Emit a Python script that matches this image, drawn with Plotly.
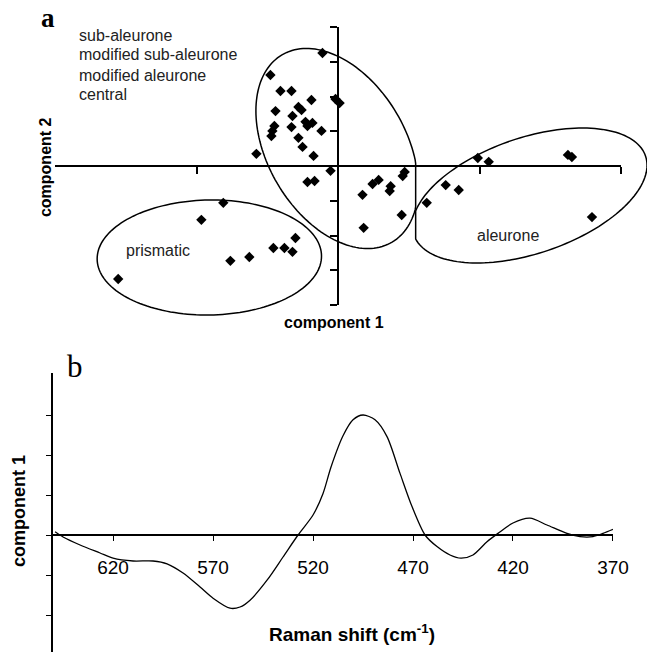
import numpy as np
import plotly.graph_objects as go

W, H = 647, 652
EFF_W = 630.0  # horizontal scale observed in the rendered page

# ---------------- data ----------------
# Panel a: PCA scores (component 1 vs component 2)
score_c1 = [-0.110, -0.478, -0.407, -0.329, -0.188, -0.018, 0.011, -0.280, -0.258, -0.442,
            -0.322, -0.230, -0.181, -0.216, -0.450, -0.464, -0.471, -0.329, -0.117, -0.280,
            -0.251, -0.577, -0.173, -0.053, -0.216, -0.166, 0.471, 0.457, 0.244, 0.287,
            0.372, 0.365, 0.173, 0.761, 0.853, 0.627, 0.450, 0.181, 0.988, 1.065,
            1.625, 1.653, 1.795,
            -0.811, -0.966, -0.301, -0.457, -0.379, -0.322, -0.761, -0.627, -1.554]
score_c2 = [3.25, 2.62, 2.16, 2.16, 1.90, 1.93, 1.81, 1.70, 1.61, 1.58,
            1.44, 1.27, 1.24, 1.15, 1.15, 1.01, 0.86, 1.12, 1.01, 0.81,
            0.55, 0.35, 0.29, -0.14, -0.46, -0.43, -0.17, -0.29, -0.52, -0.40,
            -0.58, -0.72, -0.83, -0.55, -0.69, -1.06, -1.41, -1.78, 0.23, 0.12,
            0.32, 0.26, -1.47,
            -1.06, -1.55, -2.07, -2.36, -2.36, -2.47, -2.73, -2.62, -3.25]

group_labels = ["sub-aleurone", "modified sub-aleurone", "modified aleurone", "central"]
cluster_labels = ["prismatic", "aleurone"]

x_ticks_a = [-1, 0, 1, 2]
y_ticks_a = [-4, -3, -2, -1, 0, 1, 2, 3, 4]

# Panel b: loading of component 1 vs Raman shift
raman_shift = [649, 645, 636.5, 626.5, 620, 610, 600, 593, 585, 576.5, 570, 561.5, 556.5,
               551.5, 543, 535, 527.5, 520, 515, 511, 505, 500, 495, 489, 483, 476.5,
               470.5, 464, 458, 451.5, 446, 440, 433, 427.5, 420, 411.5, 403, 393,
               386.5, 380, 375, 370]
loading_c1 = [0.08, -0.05, -0.25, -0.45, -0.58, -0.65, -0.65, -0.72, -0.95, -1.30, -1.58,
              -1.83, -1.80, -1.63, -1.13, -0.55, 0.00, 0.50, 1.04, 1.70, 2.48, 2.88, 3.00,
              2.88, 2.46, 1.54, 0.71, 0.00, -0.29, -0.50, -0.58, -0.50, -0.17, 0.04,
              0.30, 0.42, 0.25, 0.04, -0.04, -0.04, 0.04, 0.14]

x_ticks_b = [620, 570, 520, 470, 420, 370]
y_ticks_b = [-2, -1, 0, 1, 2, 3]

# ---------------- layout helpers ----------------
FONT = "Liberation Sans, Arial, sans-serif"
SERIF = "Liberation Serif, Times New Roman, serif"


def px_x(p):
    return p / EFF_W


def px_y(p):
    return 1 - p / H


def ellipse_path(cx, cy, w, h, sxy, clip_lo=None, clip_hi=None, n=160):
    t = np.linspace(0, 2 * np.pi, n, endpoint=False)
    m21 = sxy / w
    m22 = np.sqrt(h * h - m21 * m21)
    xs = cx + w * np.cos(t)
    ys = cy + m21 * np.cos(t) + m22 * np.sin(t)
    if clip_lo is not None:
        xs = np.maximum(xs, clip_lo)
    if clip_hi is not None:
        xs = np.minimum(xs, clip_hi)
    pts = [f"{px_x(x):.5f},{px_y(y):.5f}" for x, y in zip(xs, ys)]
    return "M " + " L ".join(pts) + " Z"


# panel a geometry (pixels)
a_left, a_right, a_top, a_bot = 55, 620, 27, 305
xr_a = [-2, 2]
yr_a = [-4, 4]
a_xdom = [px_x(a_left), px_x(a_right)]
a_ydom = [px_y(a_bot), px_y(a_top)]
a_xpos = a_ydom[0] + (0 - yr_a[0]) / (yr_a[1] - yr_a[0]) * (a_ydom[1] - a_ydom[0])
a_ypos = a_xdom[0] + (0 - xr_a[0]) / (xr_a[1] - xr_a[0]) * (a_xdom[1] - a_xdom[0])

# panel b geometry
b_left, b_right, b_top = 53, 612, 373
xr_b = [650, 370]
b_zero = 535
b_unit = 40.0
yr_b = [-(H - b_zero) / b_unit, (b_zero - b_top) / b_unit]
b_xdom = [px_x(b_left), px_x(b_right)]
b_ydom = [0, px_y(b_top)]
b_xpos = b_ydom[0] + (0 - yr_b[0]) / (yr_b[1] - yr_b[0]) * (b_ydom[1] - b_ydom[0])

fig = go.Figure()

fig.add_trace(go.Scatter(
    x=score_c1, y=score_c2, mode="markers", xaxis="x", yaxis="y",
    marker=dict(symbol="diamond", size=8, color="black"),
    cliponaxis=False, showlegend=False, hoverinfo="x+y"))

fig.add_trace(go.Scatter(
    x=raman_shift, y=loading_c1, mode="lines", xaxis="x2", yaxis="y2",
    line=dict(color="black", width=1.3, shape="spline", smoothing=0.8),
    showlegend=False))

axis_common = dict(showgrid=False, zeroline=False, showline=True, linecolor="black",
                   ticks="outside", tickcolor="black", showticklabels=False)

fig.update_layout(
    width=W, height=H, autosize=False,
    margin=dict(l=0, r=0, t=0, b=0),
    paper_bgcolor="white", plot_bgcolor="rgba(0,0,0,0)",
    font=dict(family=FONT, color="black"),
    xaxis=dict(**axis_common, domain=a_xdom, range=xr_a, anchor="free", position=a_xpos,
               tickvals=x_ticks_a, linewidth=1.8, tickwidth=1.5, ticklen=7),
    yaxis=dict(**axis_common, domain=a_ydom, range=yr_a, anchor="free", position=a_ypos,
               tickvals=y_ticks_a, linewidth=1.8, tickwidth=1.5, ticklen=7),
    xaxis2=dict(showgrid=False, zeroline=False, showline=True, linecolor="black",
                ticks="outside", tickcolor="black",
                domain=b_xdom, range=xr_b, anchor="free", position=b_xpos,
                tickvals=x_ticks_b, ticktext=[str(v) for v in x_ticks_b],
                linewidth=1.5, tickwidth=1.3, ticklen=5, ticklabelstandoff=10,
                tickfont=dict(size=19, family=FONT, color="black")),
    yaxis2=dict(**axis_common, domain=b_ydom, range=yr_b, anchor="x2",
                tickvals=y_ticks_b, linewidth=1.5, tickwidth=1.3, ticklen=5),
)

# cluster outlines (decoration)
line_style = dict(color="black", width=1.5)
shapes = [
    dict(type="path", xref="paper", yref="paper", layer="below", line=line_style,
         path=ellipse_path(209, 257.5, 112, 57.5, -150)),
    dict(type="path", xref="paper", yref="paper", layer="below", line=line_style,
         path=ellipse_path(336.5, 148.5, 81, 100, 3050, clip_hi=415)),
    dict(type="path", xref="paper", yref="paper", layer="below", line=line_style,
         path=ellipse_path(528.9, 195.5, 117.1, 67.5, -3544, clip_lo=415)),
]
fig.update_layout(shapes=shapes)

ann = []
# panel letters
ann.append(dict(text="<b>a</b>", x=px_x(48), y=px_y(18), font=dict(family=SERIF, size=27)))
ann.append(dict(text="b", x=px_x(75), y=px_y(366), font=dict(family=SERIF, size=31)))
# group list
for i, g in enumerate(group_labels):
    ann.append(dict(text=g, x=px_x(77), y=px_y(35 + 20 * i), xanchor="left",
                    font=dict(size=16, color="#222")))
ann.append(dict(text=cluster_labels[0], x=px_x(158), y=px_y(250), font=dict(size=16, color="#222")))
ann.append(dict(text=cluster_labels[1], x=px_x(507), y=px_y(235), font=dict(size=16, color="#222")))
# axis titles
ann.append(dict(text="<b>component 2</b>", x=px_x(46), y=px_y(167), textangle=-90,
                font=dict(size=16)))
ann.append(dict(text="<b>component 1</b>", x=px_x(333), y=px_y(322), font=dict(size=16)))
ann.append(dict(text="<b>component 1</b>", x=px_x(19), y=px_y(511), textangle=-90,
                font=dict(size=18)))
ann.append(dict(text="<b>Raman shift (cm<sup>-1</sup>)</b>", x=px_x(351), y=px_y(633),
                font=dict(size=19)))

for a in ann:
    a.setdefault("xanchor", "center")
    a.setdefault("yanchor", "middle")
    a.update(xref="paper", yref="paper", showarrow=False)
fig.update_layout(annotations=ann)

fig.write_html("out.html", config={"responsive": False})
